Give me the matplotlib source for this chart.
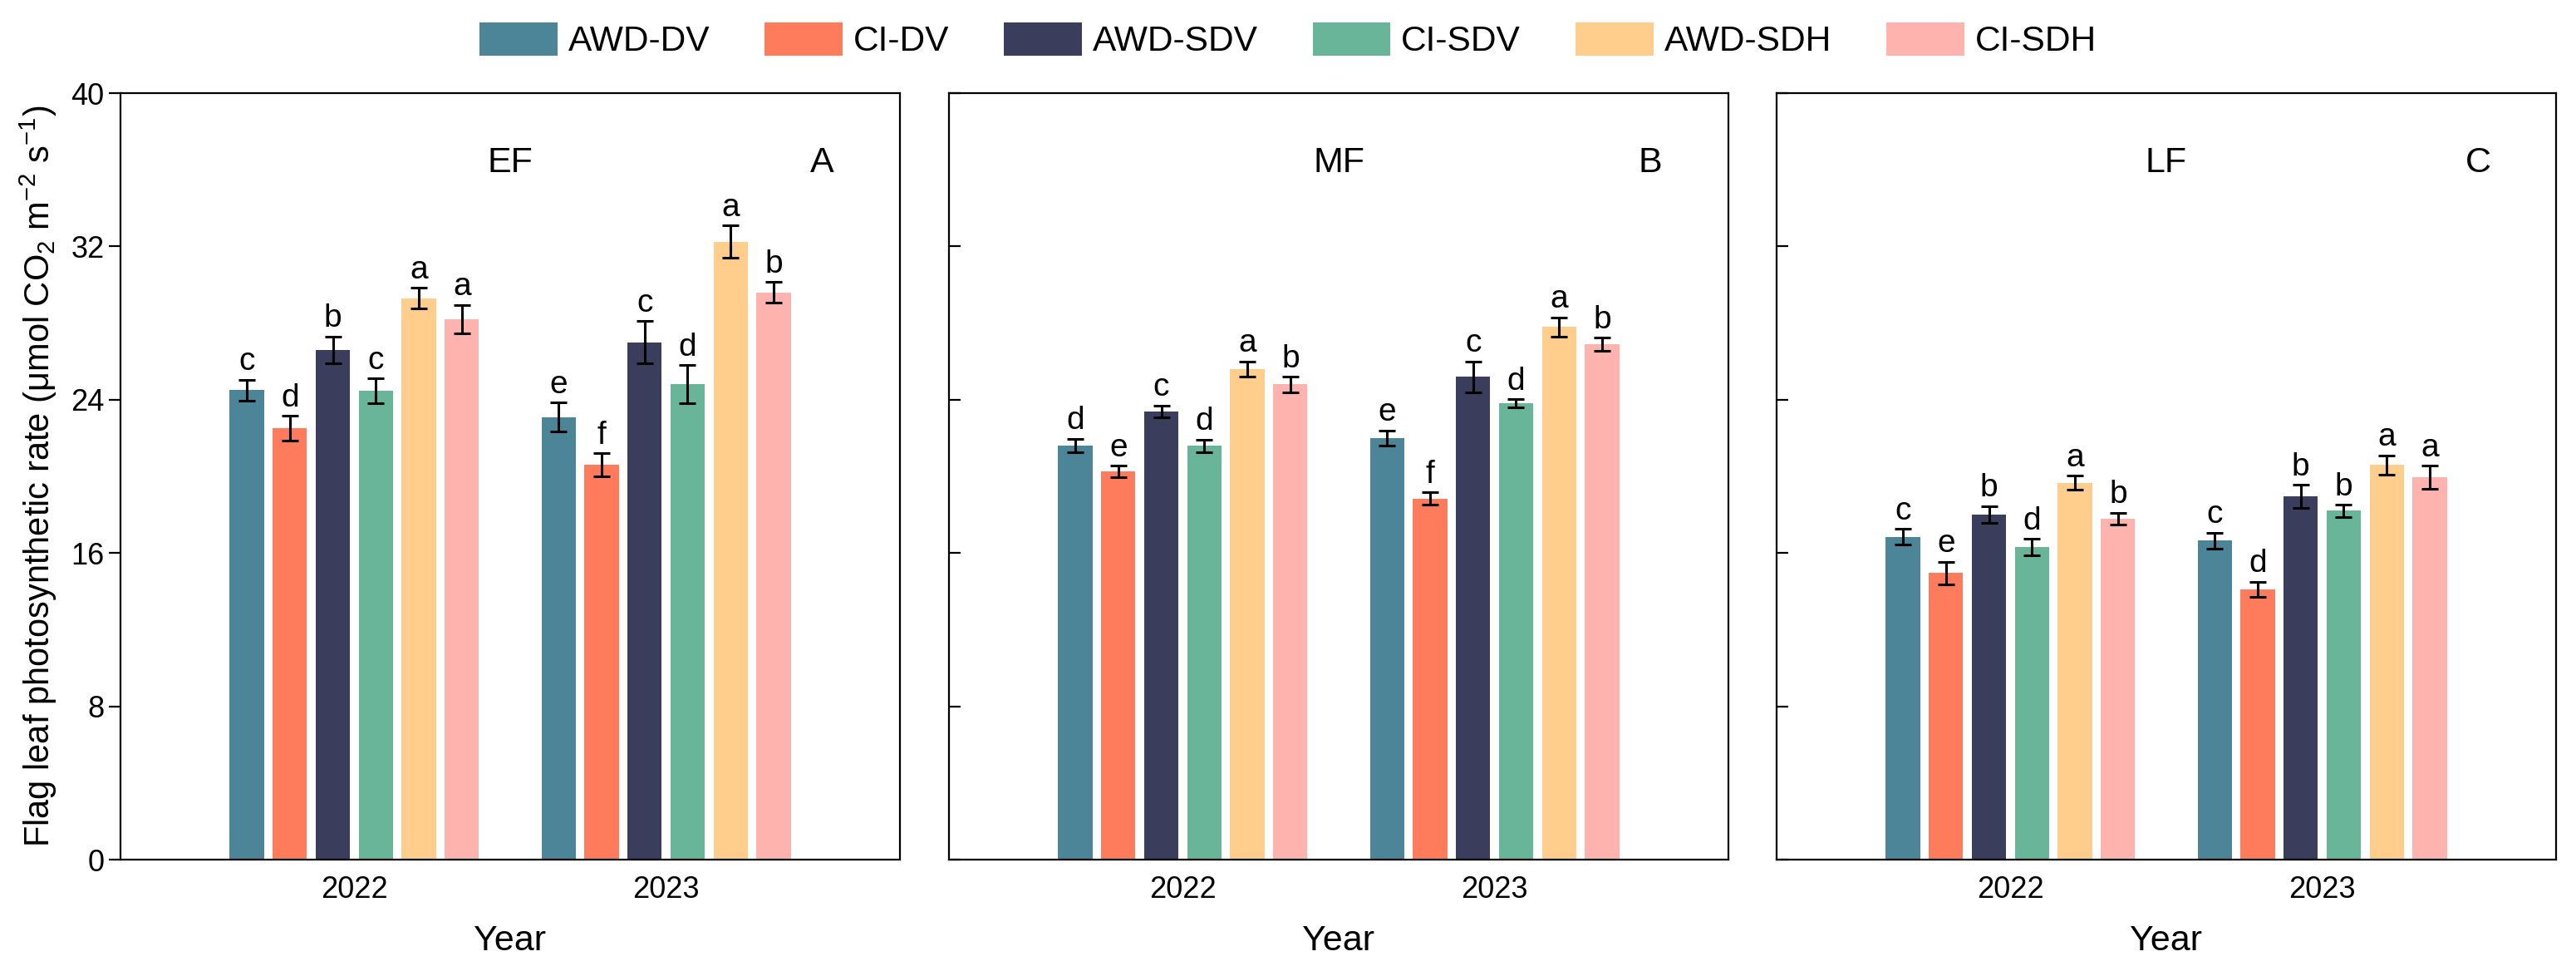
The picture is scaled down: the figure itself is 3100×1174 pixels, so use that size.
import matplotlib
matplotlib.use("Agg")
import matplotlib.pyplot as plt
import numpy as np

plt.rcParams['font.family'] = ['Liberation Sans', 'DejaVu Sans']
plt.rcParams['mathtext.fontset'] = 'custom'
plt.rcParams['mathtext.rm'] = 'Liberation Sans'
plt.rcParams['mathtext.it'] = 'Liberation Sans:italic'
plt.rcParams['mathtext.bf'] = 'Liberation Sans:bold'

years = ['2022', '2023']
treatments = ['AWD-DV', 'CI-DV', 'AWD-SDV', 'CI-SDV', 'AWD-SDH', 'CI-SDH']
colors = ['#4B8597', '#FE7B5C', '#3A3D5B', '#68B599', '#FFCD8C', '#FFB3AE']
stages = ['EF', 'MF', 'LF']
panel_tags = ['A', 'B', 'C']

# values[stage][treatment] = [2022, 2023]
ef_mean = {'AWD-DV': [24.5, 23.1], 'CI-DV': [22.5, 20.6], 'AWD-SDV': [26.6, 27.0],
           'CI-SDV': [24.45, 24.8], 'AWD-SDH': [29.3, 32.25], 'CI-SDH': [28.2, 29.6]}
ef_err = {'AWD-DV': [0.55, 0.75], 'CI-DV': [0.65, 0.6], 'AWD-SDV': [0.7, 1.1],
          'CI-SDV': [0.65, 1.0], 'AWD-SDH': [0.55, 0.85], 'CI-SDH': [0.75, 0.55]}
ef_letters = {'AWD-DV': ['c', 'e'], 'CI-DV': ['d', 'f'], 'AWD-SDV': ['b', 'c'],
              'CI-SDV': ['c', 'd'], 'AWD-SDH': ['a', 'a'], 'CI-SDH': ['a', 'b']}

mf_mean = {'AWD-DV': [21.6, 22.0], 'CI-DV': [20.27, 18.85], 'AWD-SDV': [23.4, 25.2],
           'CI-SDV': [21.6, 23.8], 'AWD-SDH': [25.6, 27.8], 'CI-SDH': [24.8, 26.9]}
mf_err = {'AWD-DV': [0.36, 0.4], 'CI-DV': [0.3, 0.33], 'AWD-SDV': [0.3, 0.8],
          'CI-SDV': [0.33, 0.22], 'AWD-SDH': [0.4, 0.5], 'CI-SDH': [0.4, 0.33]}
mf_letters = {'AWD-DV': ['d', 'e'], 'CI-DV': ['e', 'f'], 'AWD-SDV': ['c', 'c'],
              'CI-SDV': ['d', 'd'], 'AWD-SDH': ['a', 'a'], 'CI-SDH': ['b', 'b']}

lf_mean = {'AWD-DV': [16.85, 16.65], 'CI-DV': [14.95, 14.1], 'AWD-SDV': [18.0, 18.95],
           'CI-SDV': [16.3, 18.2], 'AWD-SDH': [19.67, 20.6], 'CI-SDH': [17.8, 19.95]}
lf_err = {'AWD-DV': [0.4, 0.42], 'CI-DV': [0.6, 0.4], 'AWD-SDV': [0.45, 0.6],
          'CI-SDV': [0.43, 0.33], 'AWD-SDH': [0.36, 0.5], 'CI-SDH': [0.3, 0.6]}
lf_letters = {'AWD-DV': ['c', 'c'], 'CI-DV': ['e', 'd'], 'AWD-SDV': ['b', 'b'],
              'CI-SDV': ['d', 'b'], 'AWD-SDH': ['a', 'a'], 'CI-SDH': ['b', 'a']}

means = [ef_mean, mf_mean, lf_mean]
errs = [ef_err, mf_err, lf_err]
letters = [ef_letters, mf_letters, lf_letters]

yticks = [0, 8, 16, 24, 32, 40]

W, H = 3100, 1174
dpi = 200
fig = plt.figure(figsize=(W / dpi, H / dpi), dpi=dpi)

lefts_px = [145, 1142, 2138]
width_px = 938
top_px, bottom_px = 112, 1034

pitch = 0.138
bw = 0.11
xpos = np.arange(1, len(years) + 1)

axes = []
for k in range(3):
    ax = fig.add_axes([lefts_px[k] / W, 1 - bottom_px / H, width_px / W, (bottom_px - top_px) / H])
    axes.append(ax)
    for i, t in enumerate(treatments):
        xs = xpos + (i - 2.5) * pitch
        ax.bar(xs, means[k][t], width=bw, color=colors[i], label=t, zorder=2)
        ax.errorbar(xs, means[k][t], yerr=errs[k][t], fmt='none', ecolor='black',
                    elinewidth=1.1, capsize=3.6, capthick=1.1, zorder=3)
        for j in range(len(years)):
            ax.annotate(letters[k][t][j], (xs[j], means[k][t][j] + errs[k][t][j]),
                        xytext=(0, 1.2), textcoords='offset points',
                        ha='center', va='bottom', fontsize=14)
    ax.set_xlim(0.25, 2.75)
    ax.set_ylim(0, 40)
    ax.set_xticks(xpos)
    ax.set_xticklabels(years)
    ax.set_yticks(yticks)
    ax.tick_params(axis='x', length=0, pad=7.0, labelsize=13)
    if k == 0:
        ax.tick_params(axis='y', direction='out', length=5.2, width=0.8, pad=1.8, labelsize=13)
        ax.set_ylabel(r'Flag leaf photosynthetic rate (μmol CO$_2$ m$^{-2}$ s$^{-1}$)',
                      fontsize=15, labelpad=5)
    else:
        ax.tick_params(axis='y', direction='in', length=5, width=0.8, labelleft=False)
    ax.set_xlabel('Year', fontsize=15.5, labelpad=8.5)
    for s in ax.spines.values():
        s.set_linewidth(0.8)
    ax.text(0.5, 0.909, stages[k], transform=ax.transAxes, ha='center', va='center', fontsize=15.5)
    ax.text(0.90, 0.909, panel_tags[k], transform=ax.transAxes, ha='center', va='center', fontsize=15.5)

handles, labels = axes[0].get_legend_handles_labels()
fig.legend(handles, labels, loc='center', bbox_to_anchor=(0.5, 1 - 48.5 / H), ncol=6,
           frameon=False, fontsize=15.3, handlelength=2.2, handleheight=1.06,
           handletextpad=0.3, columnspacing=1.56, borderaxespad=0)

fig.savefig('out.png', dpi=dpi)
